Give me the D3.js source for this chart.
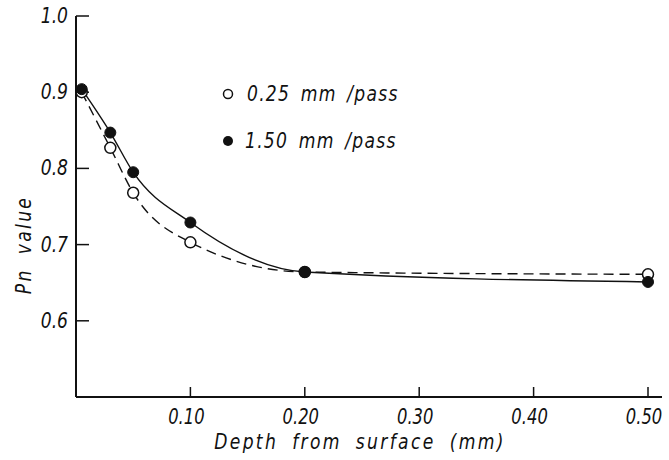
<!DOCTYPE html>
<html>
<head>
<meta charset="utf-8">
<script src="https://cdn.jsdelivr.net/npm/d3@7"></script>
<style>
  html, body { margin: 0; padding: 0; background: #fff; }
  svg text { font-family: "DejaVu Sans", sans-serif; font-style: italic; fill: #111; }
</style>
</head>
<body>
<svg id="chart" width="669" height="460"></svg>
<script>
// ---- data ----
const depths = [0.005, 0.03, 0.05, 0.10, 0.20, 0.50];
const pnOpen = [0.900, 0.827, 0.768, 0.703, 0.664, 0.661];   // 0.25 mm/pass
const pnFilled = [0.904, 0.847, 0.795, 0.729, 0.664, 0.651]; // 1.50 mm/pass
const xTicks = [0.10, 0.20, 0.30, 0.40, 0.50];
const xTickLabels = ["0.10", "0.20", "0.30", "0.40", "0.50"];
const yTicks = [0.6, 0.7, 0.8, 0.9, 1.0];
const yTickLabels = ["0.6", "0.7", "0.8", "0.9", "1.0"];
const seriesNames = ["0.25  mm /pass", "1.50  mm /pass"];

const svg = d3.select("#chart");
const x = d3.scaleLinear().domain([0, 0.5]).range([76, 648]);
const y = d3.scaleLinear().domain([0.5, 1.0]).range([397, 16]);
const ink = "#111";
const SX = 0.78; // narrow lettering

function label(g, tx, ty, txt, opts) {
  const t = g.append("text")
    .attr("transform", `translate(${tx},${ty})${opts.rotate ? " rotate(-90)" : ""} scale(${SX},1)`)
    .attr("x", 0).attr("y", 0)
    .attr("text-anchor", opts.anchor || "start")
    .attr("font-size", opts.size)
    .text(txt);
  if (opts.ls) t.attr("letter-spacing", opts.ls);
  if (opts.ws) t.attr("word-spacing", opts.ws);
  return t;
}

// axis lines
svg.append("line").attr("x1", x(0)).attr("x2", 662).attr("y1", y(0.5)).attr("y2", y(0.5))
  .attr("stroke", ink).attr("stroke-width", 2);
svg.append("line").attr("x1", x(0)).attr("x2", x(0)).attr("y1", y(1.0)).attr("y2", y(0.5))
  .attr("stroke", ink).attr("stroke-width", 2);

// x ticks (inward, upward)
svg.append("g").selectAll("line").data(xTicks).join("line")
  .attr("x1", d => x(d)).attr("x2", d => x(d))
  .attr("y1", y(0.5)).attr("y2", y(0.5) - 10)
  .attr("stroke", ink).attr("stroke-width", 1.5);
const xl = svg.append("g");
xTicks.forEach((d, i) => label(xl, x(d) - 4, 424, xTickLabels[i], {anchor: "middle", size: 21}));

// y ticks (inward, right)
svg.append("g").selectAll("line").data(yTicks).join("line")
  .attr("x1", x(0)).attr("x2", x(0) + 13)
  .attr("y1", d => y(d)).attr("y2", d => y(d))
  .attr("stroke", ink).attr("stroke-width", 1.5);
const yl = svg.append("g");
yTicks.forEach((d, i) => label(yl, 68, y(d) + 7, yTickLabels[i], {anchor: "end", size: 22}));

// axis titles
label(svg, 360, 449, "Depth from surface (mm)", {anchor: "middle", size: 22, ls: 3, ws: 8});
label(svg, 31, 245, "Pn value", {anchor: "middle", size: 22, ls: 3, ws: 8, rotate: true});

// curves
const line = d3.line().x(d => x(d[0])).y(d => y(d[1])).curve(d3.curveMonotoneX);
const openPts = depths.map((d, i) => [d, pnOpen[i]]);
const filledPts = depths.map((d, i) => [d, pnFilled[i]]);
svg.append("path").attr("d", line(filledPts)).attr("fill", "none").attr("stroke", ink).attr("stroke-width", 1.4);
svg.append("path").attr("d", line(openPts)).attr("fill", "none").attr("stroke", ink).attr("stroke-width", 1.4)
  .attr("stroke-dasharray", "10,6");

// points
svg.append("g").selectAll("circle").data(openPts).join("circle")
  .attr("cx", d => x(d[0])).attr("cy", d => y(d[1])).attr("r", 5.5)
  .attr("fill", "#fff").attr("stroke", ink).attr("stroke-width", 1.5);
svg.append("g").selectAll("circle").data(filledPts).join("circle")
  .attr("cx", d => x(d[0])).attr("cy", d => y(d[1])).attr("r", 5.5)
  .attr("fill", ink).attr("stroke", ink).attr("stroke-width", 1);

// legend
const leg = svg.append("g");
leg.append("circle").attr("cx", 228).attr("cy", 94).attr("r", 4.5).attr("fill", "#fff").attr("stroke", ink).attr("stroke-width", 1.5);
leg.append("circle").attr("cx", 228).attr("cy", 141).attr("r", 5).attr("fill", ink);
label(leg, 247, 101, seriesNames[0], {size: 22, ls: 1.6, ws: 5});
label(leg, 245, 148, seriesNames[1], {size: 22, ls: 1.6, ws: 5});
</script>
</body>
</html>
